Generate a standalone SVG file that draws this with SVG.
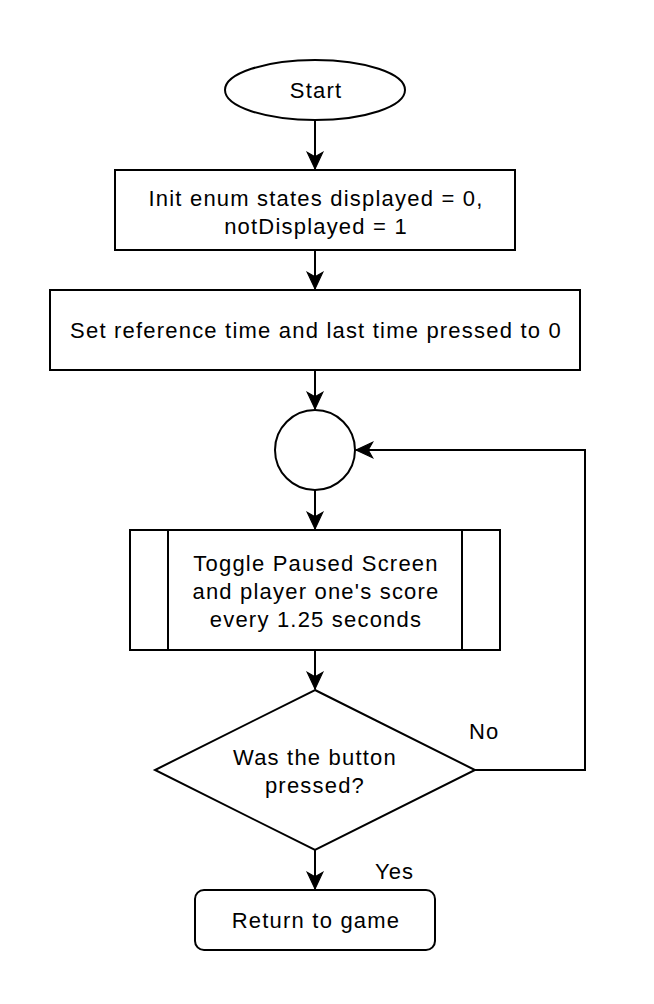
<svg xmlns="http://www.w3.org/2000/svg" width="654" height="1004" viewBox="0 0 654 1004">
<style>
.s{fill:#fff;stroke:#000;stroke-width:2}
.t{font-family:"Liberation Sans",Arial,sans-serif;font-size:22px;letter-spacing:1.2px;fill:#000;text-anchor:middle}
.l{font-family:"Liberation Sans",Arial,sans-serif;font-size:22px;letter-spacing:1px;fill:#000}
.c{fill:none;stroke:#000;stroke-width:2}
</style>
<defs>
<marker id="a" markerUnits="userSpaceOnUse" markerWidth="20" markerHeight="20" viewBox="-16 -8 18 16" refX="0" refY="0" orient="auto">
<path d="M0,0 L-15,-7 L-11,0 L-15,7 Z" fill="#000" stroke="#000" stroke-width="1"/>
</marker>
</defs>
<rect width="654" height="1004" fill="#fff"/>
<g id="connectors">
<path class="c" d="M315,120 V169" marker-end="url(#a)"/>
<path class="c" d="M315,250 V289" marker-end="url(#a)"/>
<path class="c" d="M315,370 V409" marker-end="url(#a)"/>
<path class="c" d="M315,490 V529" marker-end="url(#a)"/>
<path class="c" d="M315,650 V689" marker-end="url(#a)"/>
<path class="c" d="M315,850 V889" marker-end="url(#a)"/>
<path class="c" d="M475,770 H585 V450 H356" marker-end="url(#a)"/>
<text class="l" x="469" y="739">No</text>
<text class="l" x="375" y="879">Yes</text>
</g>
<g id="start">
<ellipse class="s" cx="315" cy="90" rx="90" ry="30"/>
<text class="t" x="316" y="98">Start</text>
</g>
<g id="init">
<rect class="s" x="115" y="170" width="400" height="80"/>
<text class="t" x="316" y="206">Init enum states displayed = 0,</text>
<text class="t" x="316" y="234">notDisplayed = 1</text>
</g>
<g id="setref">
<rect class="s" x="50" y="290" width="530" height="80"/>
<text class="t" x="316" y="338">Set reference time and last time pressed to 0</text>
</g>
<g id="connector">
<circle class="s" cx="315" cy="450" r="40"/>
</g>
<g id="toggle">
<rect class="s" x="130" y="530" width="370" height="120"/>
<path class="c" d="M168,530 V650 M462,530 V650"/>
<text class="t" x="316" y="571">Toggle Paused Screen</text>
<text class="t" x="316" y="599">and player one's score</text>
<text class="t" x="316" y="627">every 1.25 seconds</text>
</g>
<g id="decision">
<path class="s" d="M315,690 L475,770 L315,850 L155,770 Z"/>
<text class="t" x="315" y="765">Was the button</text>
<text class="t" x="315" y="793">pressed?</text>
</g>
<g id="return">
<rect class="s" x="195" y="890" width="240" height="60" rx="9"/>
<text class="t" x="316" y="928">Return to game</text>
</g>
</svg>
